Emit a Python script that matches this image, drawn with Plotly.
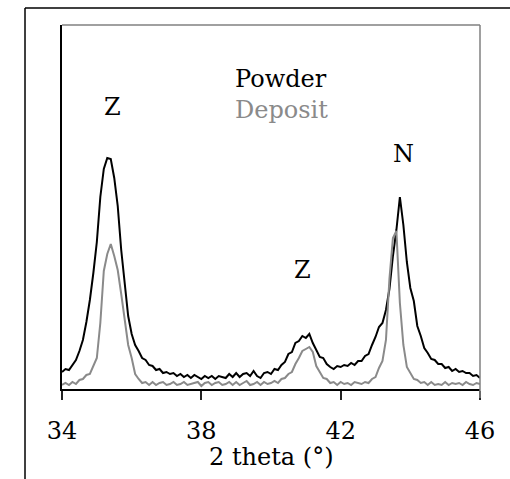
import numpy as np
import plotly.graph_objects as go

# 2-theta grid (degrees)
two_theta = np.round(np.arange(34.0, 46.0001, 0.1), 2)

# Powder intensity (arbitrary units)
powder = [
    17, 20, 19, 24, 29, 38, 49, 67, 89, 116,
    147, 192, 220, 231, 230, 211, 183, 139, 104, 73,
    55, 44, 38, 31, 29, 24, 23, 19, 20, 16,
    17, 15, 16, 13, 15, 12, 14, 11, 14, 12,
    10, 13, 11, 13, 10, 13, 12, 11, 15, 12,
    16, 12, 15, 16, 13, 18, 13, 11, 16, 17,
    15, 20, 19, 24, 27, 35, 37, 46, 48, 53,
    51, 55, 46, 39, 32, 31, 25, 22, 20, 23,
    22, 24, 23, 26, 24, 28, 28, 33, 35, 44,
    52, 62, 66, 79, 100, 133, 159, 192, 164, 127,
    101, 88, 63, 53, 41, 36, 30, 29, 25, 25,
    21, 22, 18, 20, 17, 18, 16, 16, 13, 14,
    11,
]

# Deposit intensity (arbitrary units)
deposit = [
    4, 6, 4, 7, 5, 9, 10, 14, 15, 23,
    31, 66, 118, 135, 145, 133, 119, 95, 69, 44,
    31, 15, 10, 6, 7, 4, 7, 4, 6, 7,
    4, 5, 7, 4, 5, 7, 4, 5, 6, 7,
    3, 6, 7, 4, 6, 7, 4, 5, 7, 4,
    7, 4, 6, 8, 4, 5, 7, 4, 7, 5,
    6, 8, 6, 10, 11, 15, 17, 25, 31, 38,
    40, 42, 37, 23, 17, 11, 10, 6, 7, 4,
    7, 5, 6, 4, 7, 6, 5, 7, 6, 10,
    12, 21, 28, 49, 110, 151, 158, 86, 44, 22,
    16, 10, 9, 6, 7, 4, 7, 4, 5, 4,
    7, 4, 6, 5, 6, 4, 7, 5, 4, 6,
    5,
]

tick_vals = [34, 38, 42, 46]
tick_text = ["34", "38", "42", "46"]
x_title = "2 theta (°)"

FONT = "DejaVu Serif"
FS = 24

fig = go.Figure()
fig.add_trace(go.Scatter(x=two_theta, y=powder, mode="lines", name="Powder",
                         line=dict(color="black", width=2)))
fig.add_trace(go.Scatter(x=two_theta, y=deposit, mode="lines", name="Deposit",
                         line=dict(color="#8a8a8a", width=2)))

fig.update_layout(
    width=510, height=479,
    margin=dict(l=62, r=30, t=25, b=90),
    paper_bgcolor="white", plot_bgcolor="white",
    showlegend=False,
    font=dict(family=FONT, size=FS, color="black"),
    xaxis=dict(range=[34, 46], tickvals=tick_vals, ticktext=tick_text,
               ticks="outside", ticklen=9, tickwidth=1.5, tickcolor="#222",
               ticklabelstandoff=10,
               showline=True, linecolor="black", linewidth=1.5,
               showgrid=False, zeroline=False,
               tickfont=dict(family=FONT, size=FS)),
    yaxis=dict(range=[0, 364], showticklabels=False, ticks="",
               showline=True, linecolor="black", linewidth=1.5,
               showgrid=False, zeroline=False),
)

# plot frame top/right (gray) and outer frame (black)
fig.add_shape(type="line", xref="paper", yref="paper", x0=0, x1=1, y0=1, y1=1,
              line=dict(color="#808080", width=1.5))
fig.add_shape(type="line", xref="paper", yref="paper", x0=1, x1=1, y0=-0.025, y1=1,
              line=dict(color="#808080", width=1.5))
fig.add_shape(type="line", xref="paper", yref="paper", x0=-0.0885, x1=1.08, y0=1.0467, y1=1.0467,
              line=dict(color="black", width=1.5))
fig.add_shape(type="line", xref="paper", yref="paper", x0=-0.0885, x1=-0.0885, y0=-0.26, y1=1.0467,
              line=dict(color="black", width=1.5))

# x-axis title
fig.add_annotation(x=0.5, y=-0.188, xref="paper", yref="paper", text=x_title,
                   showarrow=False, yanchor="middle",
                   font=dict(family=FONT, size=FS, color="black"))

annos = [
    ("Z", 35.44, 282, "black"),
    ("Powder", 40.3, 310, "black"),
    ("Deposit", 40.3, 279, "#8a8a8a"),
    ("Z", 40.89, 119, "black"),
    ("N", 43.79, 235, "black"),
]
for text, x, y, col in annos:
    fig.add_annotation(x=x, y=y, xref="x", yref="y", text=text, showarrow=False,
                       font=dict(family=FONT, size=FS, color=col))

fig.write_html("out.html")
